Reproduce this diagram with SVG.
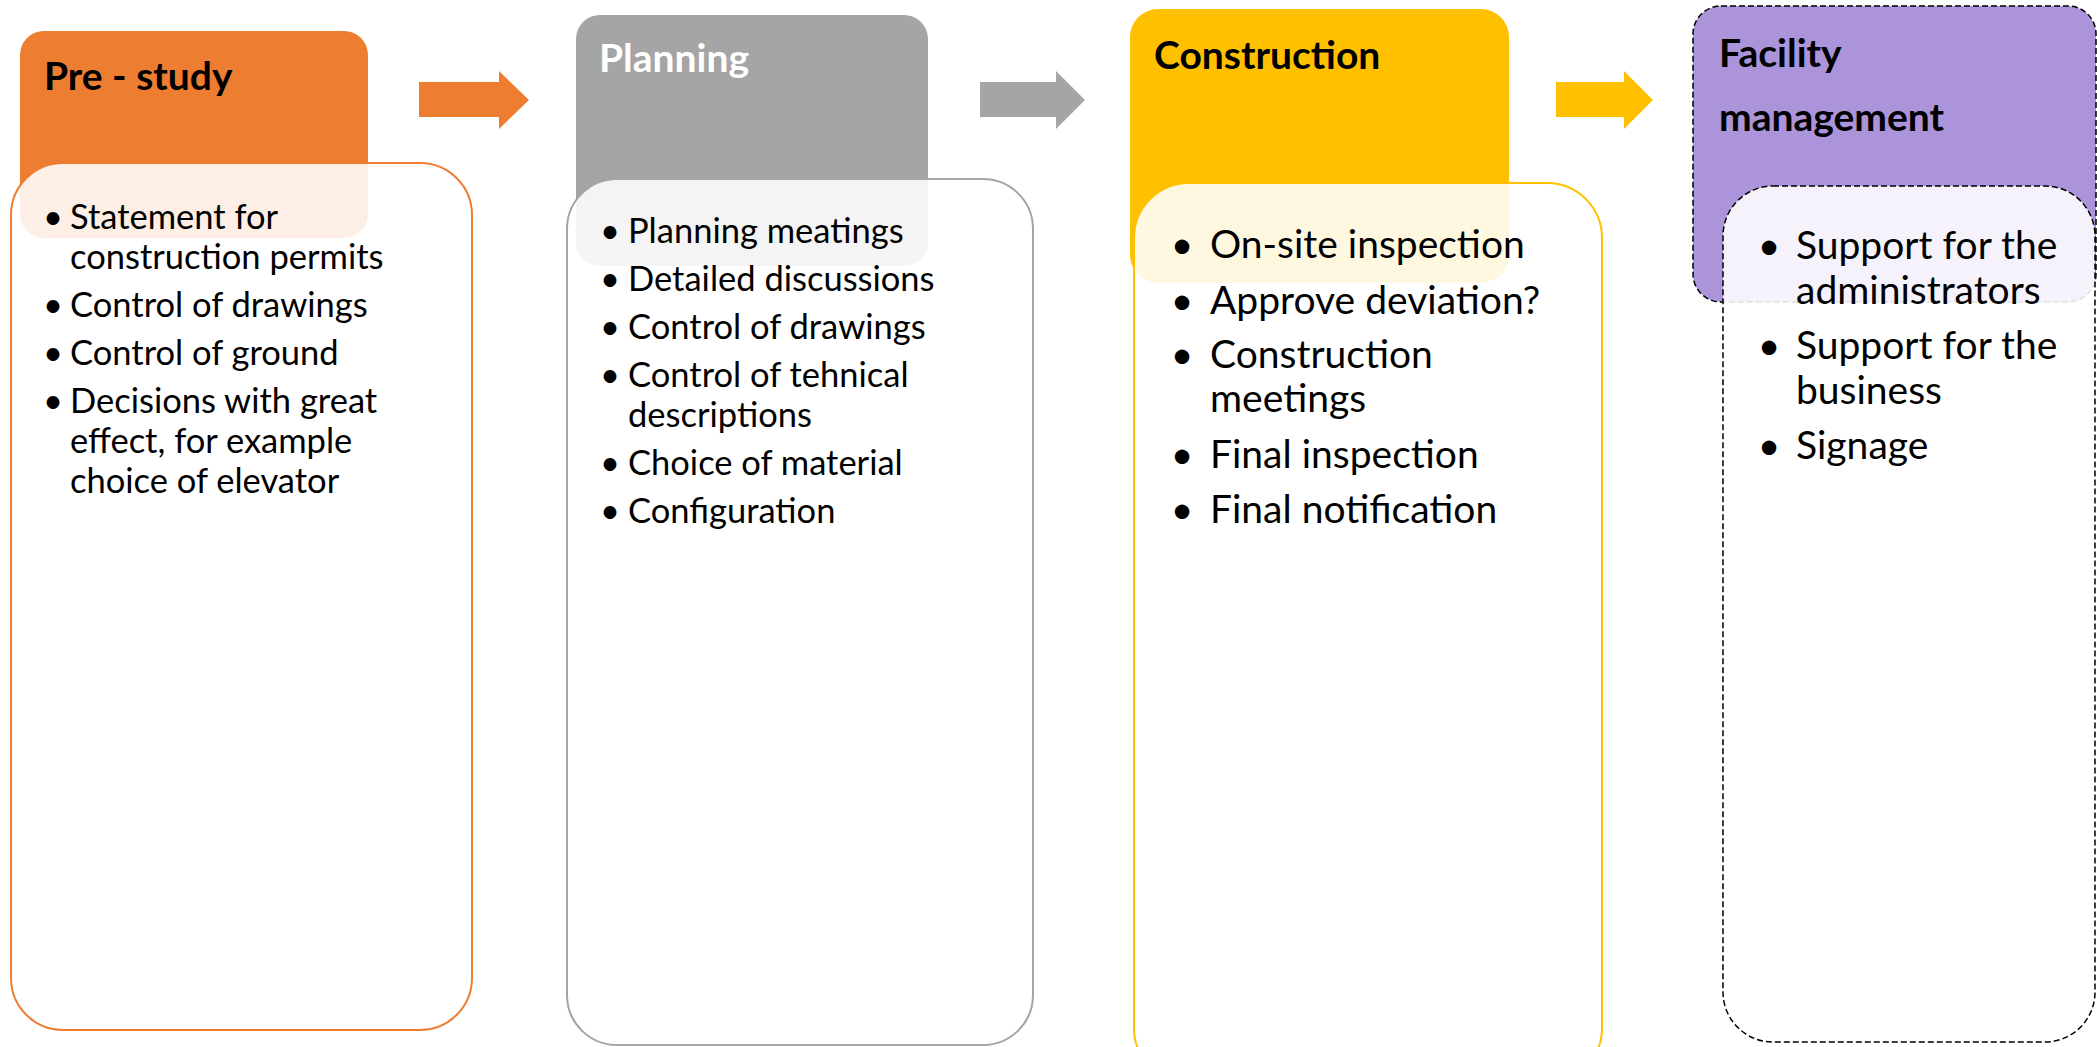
<svg xmlns="http://www.w3.org/2000/svg" width="2097" height="1047" viewBox="0 0 2097 1047">
<style>
  .title { font-family: Lato, "Liberation Sans", sans-serif; font-weight: bold; font-size: 39px; fill: #000; }
  .item { font-family: Lato, "Liberation Sans", sans-serif; font-size: 34.5px; fill: #000; }
  .lg { font-size: 39px; }
  .bul { text-anchor: middle; }
  .body { fill: #fff; fill-opacity: 0.88; stroke-width: 2; }
</style>
<rect x="0" y="0" width="2097" height="1047" fill="#fff"/>

<g id="prestudy">
  <rect x="20" y="31" width="348" height="207" rx="24" fill="#ED7D31"/>
  <text class="title" x="44" y="90">Pre - study</text>
  <rect class="body" x="11" y="163" width="461" height="867" rx="52" stroke="#ED7D31"/>
  <text class="item bul" x="53" y="229">•</text><text class="item" x="70" y="229">Statement for</text>
  <text class="item" x="70" y="269">construction permits</text>
  <text class="item bul" x="53" y="317">•</text><text class="item" x="70" y="317">Control of drawings</text>
  <text class="item bul" x="53" y="365">•</text><text class="item" x="70" y="365">Control of ground</text>
  <text class="item bul" x="53" y="413">•</text><text class="item" x="70" y="413">Decisions with great</text>
  <text class="item" x="70" y="453">effect, for example</text>
  <text class="item" x="70" y="493">choice of elevator</text>
</g>

<g id="planning">
  <rect x="576" y="15" width="352" height="251" rx="24" fill="#A5A5A5"/>
  <text class="title" x="599" y="72" style="fill:#fff">Planning</text>
  <rect class="body" x="567" y="179" width="466" height="866" rx="50" stroke="#A5A5A5"/>
  <text class="item bul" x="610" y="243">•</text><text class="item" x="628" y="243">Planning meatings</text>
  <text class="item bul" x="610" y="291">•</text><text class="item" x="628" y="291">Detailed discussions</text>
  <text class="item bul" x="610" y="339">•</text><text class="item" x="628" y="339">Control of drawings</text>
  <text class="item bul" x="610" y="387">•</text><text class="item" x="628" y="387">Control of tehnical</text>
  <text class="item" x="628" y="427">descriptions</text>
  <text class="item bul" x="610" y="475">•</text><text class="item" x="628" y="475">Choice of material</text>
  <text class="item bul" x="610" y="523">•</text><text class="item" x="628" y="523">Configuration</text>
</g>

<g id="construction">
  <rect x="1130" y="9" width="379" height="274" rx="28" fill="#FFC000"/>
  <text class="title" x="1154" y="69">Construction</text>
  <rect class="body" x="1134" y="183" width="468" height="900" rx="55" stroke="#FFC000"/>
  <text class="item lg bul" x="1182" y="258">•</text><text class="item lg" x="1210" y="258">On-site inspection</text>
  <text class="item lg bul" x="1182" y="314">•</text><text class="item lg" x="1210" y="314">Approve deviation?</text>
  <text class="item lg bul" x="1182" y="368">•</text><text class="item lg" x="1210" y="368">Construction</text>
  <text class="item lg" x="1210" y="412">meetings</text>
  <text class="item lg bul" x="1182" y="468">•</text><text class="item lg" x="1210" y="468">Final inspection</text>
  <text class="item lg bul" x="1182" y="523">•</text><text class="item lg" x="1210" y="523">Final notification</text>
</g>

<g id="facility">
  <rect x="1693" y="6" width="403" height="296" rx="28" fill="#AB94DA" stroke="#000" stroke-width="1.5" stroke-dasharray="6,3"/>
  <text class="title" x="1719" y="67">Facility</text>
  <text class="title" x="1719" y="131">management</text>
  <rect class="body" x="1723" y="186" width="372" height="856" rx="50" stroke="#000" stroke-dasharray="6,3" style="stroke-width:1.5"/>
  <text class="item lg bul" x="1769" y="259">•</text><text class="item lg" x="1796" y="259">Support for the</text>
  <text class="item lg" x="1796" y="304">administrators</text>
  <text class="item lg bul" x="1769" y="359">•</text><text class="item lg" x="1796" y="359">Support for the</text>
  <text class="item lg" x="1796" y="404">business</text>
  <text class="item lg bul" x="1769" y="459">•</text><text class="item lg" x="1796" y="459">Signage</text>
</g>

<g id="connectors">
  <path d="M419,82 H499 V71 L529,100 L499,129 V117 H419 Z" fill="#ED7D31"/>
  <path d="M980,82 H1056 V71 L1085,100 L1056,129 V117 H980 Z" fill="#A5A5A5"/>
  <path d="M1556,82 H1624 V71 L1653,100 L1624,129 V117 H1556 Z" fill="#FFC000"/>
</g>
</svg>
